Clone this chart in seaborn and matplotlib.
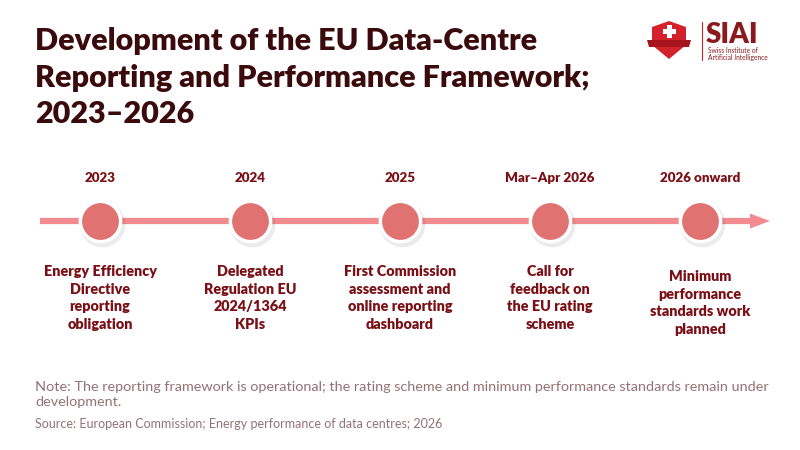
import numpy as np
import pandas as pd
import matplotlib
matplotlib.use("Agg")
import matplotlib.pyplot as plt
import seaborn as sns
from matplotlib.patches import Polygon, Rectangle

sns.set_theme(style="white")
plt.rcParams['font.family'] = ['Lato', 'DejaVu Sans']

# ---- data ----
dates = ["2023", "2024", "2025", "Mar–Apr 2026", "2026 onward"]
events = [
    "Energy Efficiency\nDirective\nreporting\nobligation",
    "Delegated\nRegulation EU\n2024/1364\nKPIs",
    "First Commission\nassessment and\nonline reporting\ndashboard",
    "Call for\nfeedback on\nthe EU rating\nscheme",
    "Minimum\nperformance\nstandards work\nplanned",
]
title = "Development of the EU Data-Centre\nReporting and Performance Framework;\n2023–2026"
note = ("Note: The reporting framework is operational; the rating scheme and minimum performance standards remain under\n"
        "development.")
source = "Source: European Commission; Energy performance of data centres; 2026"

TITLE_C = "#3b0a0d"
TEXT_C = "#7a1016"
LINE_C = "#f28b90"
NODE_C = "#e07272"
NOTE_C = "#947174"

fig = plt.figure(figsize=(8, 4.5), dpi=100)
ax = fig.add_axes([0, 0, 1, 1])

n = len(dates)
xs = np.linspace(100, 700, n)
y0 = 221
df = pd.DataFrame({"x": xs, "y": [y0] * n, "date": dates})

# timeline line with arrow
ax.plot([40, 752], [y0, y0], color=LINE_C, lw=4.5, solid_capstyle="butt", zorder=1)
ax.add_patch(Polygon([[750, y0 - 7.5], [770, y0], [750, y0 + 7.5]], closed=True,
                     facecolor=LINE_C, edgecolor="none", zorder=1))

# shadows
ax.scatter(df["x"] + 1.5, df["y"] + 2.5, s=1080, color="#000000", alpha=0.08,
           linewidths=0, zorder=2)
sns.scatterplot(data=df, x="x", y="y", s=840, color=NODE_C, edgecolor="white",
                linewidth=2.5, ax=ax, zorder=3, legend=False)
ax.set_xlim(0, 800)
ax.set_ylim(450, 0)
ax.axis("off")

for i, (x, d, e) in enumerate(zip(xs, dates, events)):
    ax.text(x, 178, d, ha="center", va="center", fontsize=9.6, fontweight="heavy", color=TEXT_C)
    ax.text(x, 298 + (5 if i == n - 1 else 0), e, ha="center", va="center", fontsize=10.4,
            fontweight="heavy", color=TEXT_C, linespacing=1.42)

# title
ax.text(35, 27, title, ha="left", va="top", fontsize=22, fontweight="heavy",
        color=TITLE_C, linespacing=1.38)

# note and source
ax.text(35, 381, note, ha="left", va="top", fontsize=10.4, color=NOTE_C, linespacing=1.32)
ax.text(35, 424, source, ha="left", va="center", fontsize=9.0, color=NOTE_C)

# logo
shield = Polygon([[652, 27], [669, 21], [686, 27], [686, 45], [669, 59], [652, 45]],
                 closed=True, facecolor="#d3222b", edgecolor="none", zorder=5)
ax.add_patch(shield)
ax.add_patch(Polygon([[647, 40], [691, 40], [689, 47], [649, 47]], closed=True,
                     facecolor="#a5141c", edgecolor="none", zorder=6))
ax.add_patch(Rectangle((666.5, 25), 5, 13, facecolor="white", edgecolor="none", zorder=7))
ax.add_patch(Rectangle((662.5, 29), 13, 5, facecolor="white", edgecolor="none", zorder=7))
ax.plot([702, 702], [22, 60], color="#c0262d", lw=0.8, zorder=5)
ax.text(706, 35, "SIAI", ha="left", va="center", fontsize=20, fontweight="heavy",
        color="#8b1a1f", zorder=6)
ax.text(708, 54, "Swiss Institute of\nArtificial Intelligence", ha="left", va="center",
        fontsize=4.8, color="#8b1a1f", linespacing=1.0, zorder=6)

fig.savefig("out.png", dpi=100, facecolor="white")
